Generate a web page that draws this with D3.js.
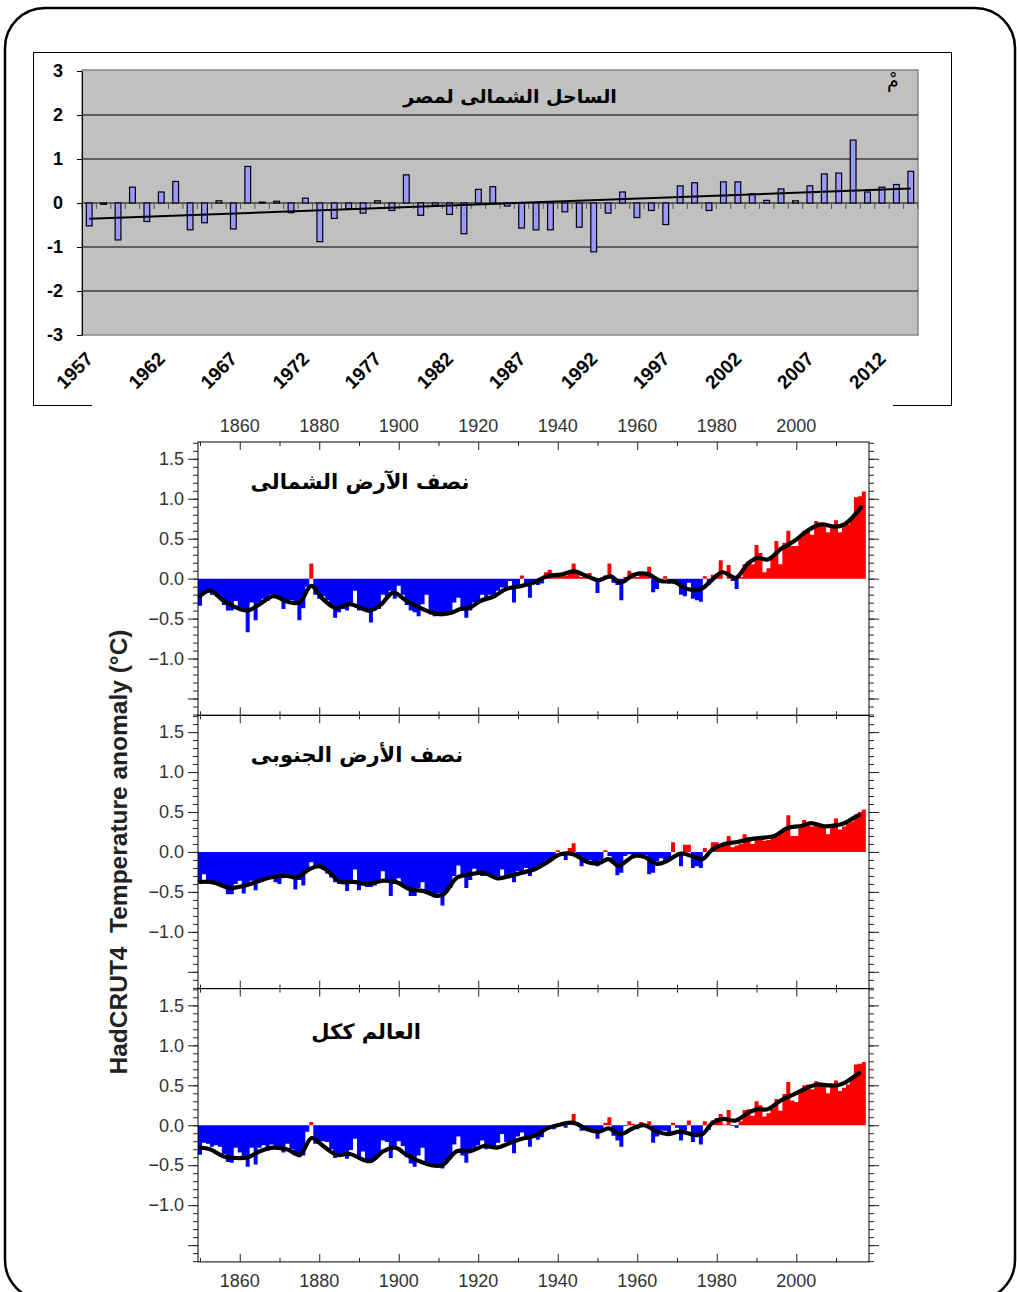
<!DOCTYPE html>
<html>
<head>
<meta charset="utf-8">
<script src="https://cdn.jsdelivr.net/npm/d3@7"></script>
<style>
  body { margin: 0; background: #fff; }
  svg { display: block; }
</style>
</head>
<body>
<div id="container"></div>
<script>
// ---- north coast of Egypt, annual anomaly (°C), 1957-2014
const egyptYears = d3.range(1957, 2015);
const egyptAnomaly = [
  -0.52, -0.03, -0.84, 0.36, -0.42, 0.25, 0.49, -0.61, -0.45, 0.05,
  -0.59, 0.83, 0.02, 0.04, -0.22, 0.11, -0.88, -0.35, -0.13, -0.23,
  0.05, -0.17, 0.64, -0.28, -0.05, -0.26, -0.70, 0.31, 0.37, -0.07,
  -0.57, -0.61, -0.61, -0.20, -0.55, -1.11, -0.23, 0.25, -0.33, -0.17,
  -0.49, 0.39, 0.46, -0.17, 0.48, 0.48, 0.21, 0.06, 0.32, 0.05,
  0.39, 0.66, 0.68, 1.43, 0.25, 0.36, 0.42, 0.72
];
const egyptTrendYears = [1957, 2014];
const egyptTrendValues = [-0.36, 0.33];
const egyptTickYears = [1957, 1962, 1967, 1972, 1977, 1982, 1987, 1992, 1997, 2002, 2007, 2012];
const egyptYTicks = [-3, -2, -1, 0, 1, 2, 3];
const egyptTitle = "الساحل الشمالى لمصر";
const egyptUnit = "مْ";

// ---- HadCRUT4 annual anomalies (°C), 1850-2017
const hadYears = d3.range(1850, 2018);
const nhAnomaly = [
  -0.34, -0.17, -0.15, -0.20, -0.20, -0.25, -0.33, -0.40, -0.40, -0.28,
  -0.36, -0.38, -0.67, -0.30, -0.52, -0.30, -0.25, -0.28, -0.20, -0.22,
  -0.25, -0.38, -0.30, -0.27, -0.30, -0.52, -0.37, -0.10, 0.19, -0.20,
  -0.25, -0.22, -0.27, -0.35, -0.49, -0.42, -0.38, -0.40, -0.30, -0.15,
  -0.40, -0.36, -0.42, -0.55, -0.40, -0.38, -0.20, -0.22, -0.15, -0.25,
  -0.09, -0.20, -0.33, -0.40, -0.42, -0.47, -0.32, -0.20, -0.45, -0.47,
  -0.45, -0.47, -0.46, -0.45, -0.30, -0.24, -0.40, -0.49, -0.40, -0.30,
  -0.28, -0.20, -0.25, -0.20, -0.24, -0.15, -0.11, -0.12, -0.03, -0.30,
  -0.09, 0.04, -0.08, -0.24, -0.05, -0.08, -0.06, 0.08, 0.11, 0.04,
  0.04, 0.03, 0.04, 0.07, 0.19, 0.06, 0.02, 0.04, 0.07, 0.00,
  -0.18, -0.02, 0.04, 0.19, -0.05, -0.08, -0.27, 0.02, 0.10, 0.07,
  0.02, 0.08, 0.06, 0.15, -0.17, -0.13, -0.05, 0.03, -0.06, -0.03,
  -0.05, -0.20, -0.22, -0.05, -0.25, -0.27, -0.29, 0.03, -0.08, 0.05,
  0.06, 0.23, 0.00, 0.17, -0.03, -0.13, 0.02, 0.18, 0.22, 0.18,
  0.42, 0.32, 0.08, 0.13, 0.27, 0.47, 0.18, 0.45, 0.60, 0.41,
  0.41, 0.51, 0.60, 0.60, 0.55, 0.72, 0.70, 0.70, 0.58, 0.63,
  0.73, 0.58, 0.66, 0.68, 0.76, 1.02, 1.03, 1.09
];
const shAnomaly = [
  -0.38, -0.28, -0.38, -0.40, -0.38, -0.40, -0.42, -0.53, -0.53, -0.40,
  -0.36, -0.52, -0.40, -0.36, -0.48, -0.38, -0.33, -0.33, -0.30, -0.38,
  -0.40, -0.32, -0.28, -0.30, -0.47, -0.35, -0.42, -0.25, -0.13, -0.20,
  -0.20, -0.22, -0.27, -0.32, -0.38, -0.40, -0.40, -0.49, -0.38, -0.22,
  -0.48, -0.42, -0.44, -0.44, -0.42, -0.38, -0.24, -0.36, -0.55, -0.40,
  -0.33, -0.40, -0.45, -0.55, -0.55, -0.45, -0.38, -0.50, -0.52, -0.57,
  -0.52, -0.67, -0.50, -0.45, -0.30, -0.17, -0.30, -0.45, -0.35, -0.21,
  -0.25, -0.30, -0.30, -0.28, -0.33, -0.30, -0.22, -0.30, -0.28, -0.38,
  -0.24, -0.25, -0.20, -0.30, -0.22, -0.20, -0.18, -0.12, -0.10, -0.08,
  0.02, -0.02, -0.10, 0.05, 0.11, -0.05, -0.18, -0.12, -0.10, -0.12,
  -0.18, -0.10, 0.02, -0.05, -0.15, -0.29, -0.26, -0.05, -0.03, -0.08,
  -0.06, -0.03, -0.04, -0.28, -0.26, -0.12, -0.08, -0.12, -0.10, 0.12,
  0.00, -0.18, 0.09, 0.09, -0.20, -0.18, -0.20, 0.05, 0.00, 0.12,
  0.12, 0.08, 0.10, 0.20, 0.06, 0.08, 0.10, 0.22, 0.18, 0.10,
  0.18, 0.18, 0.14, 0.15, 0.18, 0.20, 0.23, 0.30, 0.46, 0.20,
  0.20, 0.33, 0.40, 0.36, 0.32, 0.35, 0.32, 0.30, 0.22, 0.35,
  0.42, 0.28, 0.32, 0.36, 0.38, 0.47, 0.50, 0.53
];
const globalAnomaly = [
  -0.37, -0.22, -0.23, -0.27, -0.25, -0.27, -0.36, -0.46, -0.47, -0.28,
  -0.34, -0.41, -0.52, -0.28, -0.49, -0.28, -0.25, -0.32, -0.24, -0.26,
  -0.28, -0.34, -0.23, -0.30, -0.37, -0.40, -0.38, -0.08, 0.04, -0.23,
  -0.23, -0.20, -0.21, -0.30, -0.41, -0.39, -0.37, -0.42, -0.31, -0.17,
  -0.42, -0.33, -0.46, -0.47, -0.41, -0.39, -0.19, -0.21, -0.41, -0.29,
  -0.20, -0.26, -0.40, -0.48, -0.52, -0.38, -0.28, -0.47, -0.51, -0.52,
  -0.49, -0.54, -0.44, -0.42, -0.24, -0.14, -0.38, -0.47, -0.33, -0.28,
  -0.25, -0.19, -0.30, -0.28, -0.29, -0.22, -0.11, -0.21, -0.21, -0.35,
  -0.14, -0.09, -0.14, -0.27, -0.13, -0.18, -0.15, -0.03, -0.01, -0.05,
  0.01, 0.02, -0.03, 0.00, 0.14, 0.03, -0.07, -0.04, -0.04, -0.07,
  -0.17, -0.05, 0.03, 0.10, -0.13, -0.19, -0.27, -0.01, 0.05, 0.02,
  -0.05, 0.04, 0.01, 0.05, -0.22, -0.14, -0.07, -0.07, -0.11, 0.03,
  -0.03, -0.19, -0.07, 0.06, -0.21, -0.15, -0.24, 0.05, -0.06, 0.06,
  0.09, 0.14, 0.01, 0.19, -0.01, -0.03, 0.05, 0.19, 0.20, 0.12,
  0.30, 0.25, 0.11, 0.15, 0.21, 0.33, 0.18, 0.39, 0.54, 0.31,
  0.29, 0.44, 0.50, 0.51, 0.45, 0.55, 0.51, 0.49, 0.40, 0.51,
  0.56, 0.43, 0.47, 0.51, 0.58, 0.76, 0.77, 0.79
];

// smoothed curves at a few points
const nhSmoothYears = [1850, 1852.5, 1856, 1859, 1862, 1865, 1868.5, 1872, 1875, 1878, 1881, 1884.3, 1887.7, 1892.7, 1895.6, 1898.6, 1902, 1906, 1909.5, 1913, 1915.5, 1918, 1920.5, 1924, 1927, 1931, 1934, 1937.3, 1940.7, 1944, 1947.4, 1950.3, 1953.3, 1955.8, 1959.2, 1962.5, 1965.9, 1969.2, 1972.6, 1976, 1978.5, 1981.4, 1984.8, 1987.7, 1990.2, 1992.8, 1996.1, 1999.5, 2002.8, 2006.2, 2009.6, 2012.1, 2014.6, 2016.3];
const nhSmooth = [-0.22, -0.15, -0.28, -0.36, -0.40, -0.32, -0.22, -0.29, -0.30, -0.09, -0.26, -0.37, -0.32, -0.40, -0.32, -0.175, -0.28, -0.38, -0.44, -0.43, -0.38, -0.36, -0.28, -0.22, -0.13, -0.09, -0.05, 0.03, 0.05, 0.09, 0.03, -0.02, 0.03, -0.05, 0.05, 0.06, -0.03, -0.04, -0.13, -0.13, -0.03, 0.08, 0.01, 0.18, 0.26, 0.24, 0.37, 0.47, 0.60, 0.68, 0.65, 0.68, 0.79, 0.89];
const shSmoothYears = [1850, 1853.3, 1857.5, 1860.9, 1864.2, 1867.6, 1871.8, 1874.3, 1877.7, 1880.2, 1882.7, 1885.2, 1888.6, 1892, 1896.2, 1899.5, 1902.9, 1906.3, 1909.6, 1911.3, 1914.7, 1918, 1921.4, 1924.8, 1928.1, 1931, 1934.5, 1937.3, 1940.7, 1944, 1947.4, 1950.3, 1952.8, 1955.3, 1959.2, 1961.7, 1965, 1967.6, 1970.9, 1974.3, 1976.4, 1978.9, 1981.9, 1985.2, 1988.6, 1991.9, 1994.5, 1997.8, 2001.2, 2003.7, 2007.1, 2009.6, 2012.1, 2014.6, 2015.8];
const shSmooth = [-0.375, -0.38, -0.45, -0.425, -0.375, -0.32, -0.30, -0.32, -0.21, -0.18, -0.26, -0.375, -0.375, -0.40, -0.36, -0.38, -0.47, -0.49, -0.55, -0.53, -0.32, -0.28, -0.26, -0.33, -0.30, -0.26, -0.21, -0.13, -0.03, -0.03, -0.125, -0.14, -0.09, -0.17, -0.05, -0.06, -0.15, -0.11, -0.02, -0.06, -0.09, 0.03, 0.10, 0.125, 0.16, 0.18, 0.20, 0.30, 0.325, 0.36, 0.32, 0.33, 0.36, 0.43, 0.46];
const globalSmoothYears = [1850, 1852.5, 1856, 1859.2, 1862.1, 1865.1, 1868.4, 1871.8, 1875.1, 1878.1, 1881, 1884.4, 1887.7, 1892.8, 1896.1, 1899.1, 1902, 1906.2, 1909.6, 1911.3, 1914.6, 1918, 1921.4, 1924.7, 1928.1, 1931, 1934.4, 1937.3, 1940.7, 1944, 1947.4, 1950.3, 1952.8, 1955.8, 1959.2, 1961.7, 1965, 1967.6, 1970.9, 1974.3, 1976.4, 1978.9, 1981.4, 1984.8, 1987.7, 1990.2, 1992.8, 1996.1, 1999.5, 2002.8, 2005.3, 2007.8, 2010.4, 2012.5, 2014.6, 2015.8];
const globalSmooth = [-0.28, -0.30, -0.39, -0.41, -0.40, -0.325, -0.28, -0.30, -0.37, -0.16, -0.26, -0.37, -0.36, -0.45, -0.325, -0.28, -0.37, -0.47, -0.51, -0.49, -0.325, -0.325, -0.26, -0.28, -0.22, -0.17, -0.13, -0.04, 0.01, 0.03, -0.05, -0.08, -0.04, -0.11, -0.03, 0.00, -0.08, -0.11, -0.08, -0.12, -0.11, 0.03, 0.08, 0.06, 0.15, 0.20, 0.20, 0.31, 0.39, 0.47, 0.51, 0.50, 0.50, 0.54, 0.61, 0.65];

const hadXTicks = [1860, 1880, 1900, 1920, 1940, 1960, 1980, 2000];
const hadXMinor = [1850, 1870, 1890, 1910, 1930, 1950, 1970, 1990, 2010];
const hadYTicks = [-1, -0.5, 0, 0.5, 1, 1.5];
const hadYMajor = [-1.5, -1, -0.5, 0, 0.5, 1, 1.5];
const hadYMinor = d3.range(-17, 18).map((d) => d / 10);
const panelTitles = ["نصف الآرض الشمالى", "نصف الأرض الجنوبى", "العالم ككل"];
const yTitle = "HadCRUT4  Temperature anomaly (°C)";

// ---------------------------------------------------------------
const width = 1017;
const height = 1292;
const sans = "Liberation Sans, Arial, sans-serif";
const arabic = "DejaVu Sans, sans-serif";

const svg = d3
  .select("#container")
  .append("svg")
  .attr("width", width)
  .attr("height", height);

// rounded outer frame
svg
  .append("rect")
  .attr("x", 5)
  .attr("y", 8)
  .attr("width", 1010)
  .attr("height", 1292)
  .attr("rx", 40)
  .attr("fill", "none")
  .attr("stroke", "#000")
  .attr("stroke-width", 2.5);

// ===== top chart (Excel style) =====
const egypt = svg.append("g");
egypt
  .append("rect")
  .attr("x", 33.5)
  .attr("y", 52.5)
  .attr("width", 918)
  .attr("height", 353)
  .attr("fill", "#fff")
  .attr("stroke", "#000");

const xE = d3
  .scaleBand()
  .domain(egyptYears)
  .range([82, 918])
  .paddingInner(0.6)
  .paddingOuter(0.3);
const yE = d3.scaleLinear().domain([-3, 3]).range([335, 71]);
const bw = xE.bandwidth();
const stepE = xE.step();

egypt
  .append("rect")
  .attr("x", 82)
  .attr("y", 70)
  .attr("width", 836)
  .attr("height", 265)
  .attr("fill", "#c0c0c0")
  .attr("stroke", "#888")
  .attr("stroke-width", 1.5);

// grid lines
egypt
  .append("g")
  .selectAll("line")
  .data(egyptYTicks.filter((d) => Math.abs(d) < 3))
  .join("line")
  .attr("x1", 82)
  .attr("x2", 918)
  .attr("y1", (d) => yE(d))
  .attr("y2", (d) => yE(d))
  .attr("stroke", "#000")
  .attr("stroke-width", 1);

// category ticks under the zero line
const catEdges = egyptYears
  .map((d) => xE(d) + bw / 2 - stepE / 2)
  .concat([xE(egyptYears[egyptYears.length - 1]) + bw / 2 + stepE / 2]);
egypt
  .append("g")
  .selectAll("line")
  .data(catEdges)
  .join("line")
  .attr("x1", (d) => d)
  .attr("x2", (d) => d)
  .attr("y1", yE(0))
  .attr("y2", yE(0) + 6)
  .attr("stroke", "#555");

// bars
egypt
  .append("g")
  .selectAll("rect")
  .data(egyptYears)
  .join("rect")
  .attr("x", (d) => xE(d))
  .attr("width", bw)
  .attr("y", (d, i) => yE(Math.max(0, egyptAnomaly[i])))
  .attr("height", (d, i) => Math.abs(yE(egyptAnomaly[i]) - yE(0)))
  .attr("fill", "#9999ff")
  .attr("stroke", "#000")
  .attr("stroke-width", 1.2);

// trend line
egypt
  .append("path")
  .datum(egyptTrendYears.map((d, i) => [d, egyptTrendValues[i]]))
  .attr("fill", "none")
  .attr("stroke", "#000")
  .attr("stroke-width", 2)
  .attr(
    "d",
    d3
      .line()
      .x((d) => xE(d[0]) + bw / 2)
      .y((d) => yE(d[1]))
  );

// left axis
egypt
  .append("g")
  .attr("transform", "translate(82,0)")
  .call(
    d3
      .axisLeft(yE)
      .tickValues(egyptYTicks)
      .tickSize(5)
      .tickSizeOuter(0)
      .tickPadding(14)
      .tickFormat((d) => String(d))
  )
  .call((g) => g.select(".domain").attr("stroke", "#000"))
  .call((g) => g.selectAll(".tick line").attr("stroke", "#000"))
  .call((g) =>
    g
      .selectAll("text")
      .attr("font-family", sans)
      .attr("font-weight", "bold")
      .attr("font-size", 18)
      .attr("fill", "#000")
  );

// rotated year labels
egypt
  .append("g")
  .selectAll("text")
  .data(egyptTickYears)
  .join("text")
  .attr("transform", (d) => `translate(${xE(d) + bw / 2 + 5},360) rotate(-45)`)
  .attr("text-anchor", "end")
  .attr("font-family", sans)
  .attr("font-weight", "bold")
  .attr("font-size", 19)
  .text((d) => d);

egypt
  .append("text")
  .attr("x", 510)
  .attr("y", 103)
  .attr("text-anchor", "middle")
  .attr("font-family", arabic)
  .attr("font-weight", "bold")
  .attr("font-size", 19)
  .text(egyptTitle);

egypt
  .append("text")
  .attr("x", 893)
  .attr("y", 87)
  .attr("text-anchor", "middle")
  .attr("font-family", arabic)
  .attr("font-size", 19)
  .text(egyptUnit);

// ===== lower chart (HadCRUT4) =====
const had = svg.append("g");
had
  .append("rect")
  .attr("x", 92)
  .attr("y", 399)
  .attr("width", 801)
  .attr("height", 868)
  .attr("fill", "#fff");

const xH = d3.scaleLinear().domain([1849.5, 2018.3]).range([198, 869]);
const panelH = 273.3;
const panels = [
  { values: nhAnomaly, sYears: nhSmoothYears, sVals: nhSmooth, title: panelTitles[0], tx: 360, ty: 489 },
  { values: shAnomaly, sYears: shSmoothYears, sVals: shSmooth, title: panelTitles[1], tx: 357, ty: 762 },
  { values: globalAnomaly, sYears: globalSmoothYears, sVals: globalSmooth, title: panelTitles[2], tx: 366, ty: 1039 },
];
const fmt = d3.format(".1f");

panels.forEach((p, k) => {
  const top = 442 + k * panelH;
  const y = d3.scaleLinear().domain([-1.71, 1.71]).range([top + panelH, top]);
  const g = had.append("g");

  // bars as one stepped area per sign, so there are no seams between years
  const steps = hadYears.map((d, i) => [d - 0.5, p.values[i]]);
  steps.push([hadYears[hadYears.length - 1] + 0.5, p.values[p.values.length - 1]]);
  const stepArea = (clip) =>
    d3
      .area()
      .x((d) => xH(d[0]))
      .y0(y(0))
      .y1((d) => y(clip(d[1])))
      .curve(d3.curveStepAfter);
  g.append("path")
    .datum(steps)
    .attr("fill", "#0000ff")
    .attr("d", stepArea((v) => Math.min(0, v)));
  g.append("path")
    .datum(steps)
    .attr("fill", "#ff0000")
    .attr("d", stepArea((v) => Math.max(0, v)));

  // smoothed curve
  g.append("path")
    .datum(p.sYears.map((d, i) => [d, p.sVals[i]]))
    .attr("fill", "none")
    .attr("stroke", "#000")
    .attr("stroke-width", 4.2)
    .attr("stroke-linejoin", "round")
    .attr("stroke-linecap", "round")
    .attr(
      "d",
      d3
        .line()
        .x((d) => xH(d[0]))
        .y((d) => y(d[1]))
        .curve(d3.curveCatmullRom.alpha(0.5))
    );

  // frame
  g.append("rect")
    .attr("x", 198)
    .attr("y", top)
    .attr("width", 869 - 198)
    .attr("height", panelH)
    .attr("fill", "none")
    .attr("stroke", "#000")
    .attr("stroke-width", 1);

  const clean = (a) => {
    a.select(".domain").remove();
    a.selectAll(".tick line").attr("stroke", "#222");
  };

  // y ticks: left & right, outward
  g.append("g").attr("transform", "translate(198,0)")
    .call(d3.axisLeft(y).tickValues(hadYMinor).tickSize(5).tickFormat("")).call(clean);
  g.append("g").attr("transform", "translate(198,0)")
    .call(
      d3.axisLeft(y).tickValues(hadYMajor).tickSize(10).tickPadding(4)
        .tickFormat((d) => (hadYTicks.includes(d) ? fmt(d) : ""))
    )
    .call(clean)
    .call((a) =>
      a.selectAll("text").attr("font-family", sans).attr("font-size", 18).attr("fill", "#333")
    );
  g.append("g").attr("transform", "translate(869,0)")
    .call(d3.axisRight(y).tickValues(hadYMinor).tickSize(5).tickFormat("")).call(clean);
  g.append("g").attr("transform", "translate(869,0)")
    .call(d3.axisRight(y).tickValues(hadYMajor).tickSize(10).tickFormat("")).call(clean);

  // x ticks: inward on top and bottom edge
  g.append("g").attr("transform", `translate(0,${top})`)
    .call(d3.axisBottom(xH).tickValues(hadXMinor).tickSize(4).tickFormat("")).call(clean);
  g.append("g").attr("transform", `translate(0,${top})`)
    .call(d3.axisBottom(xH).tickValues(hadXTicks).tickSize(8).tickFormat("")).call(clean);
  g.append("g").attr("transform", `translate(0,${top + panelH})`)
    .call(d3.axisTop(xH).tickValues(hadXMinor).tickSize(4).tickFormat("")).call(clean);
  g.append("g").attr("transform", `translate(0,${top + panelH})`)
    .call(d3.axisTop(xH).tickValues(hadXTicks).tickSize(8).tickFormat("")).call(clean);

  // panel title
  g.append("text")
    .attr("x", p.tx)
    .attr("y", p.ty)
    .attr("text-anchor", "middle")
    .attr("font-family", arabic)
    .attr("font-weight", "bold")
    .attr("font-size", 21)
    .text(p.title);
});

// year labels above and below
[432, 1287].forEach((ly) => {
  had.append("g")
    .selectAll("text")
    .data(hadXTicks)
    .join("text")
    .attr("x", (d) => xH(d))
    .attr("y", ly)
    .attr("text-anchor", "middle")
    .attr("font-family", sans)
    .attr("font-size", 18)
    .attr("fill", "#333")
    .text((d) => d);
});

// y axis title
had
  .append("text")
  .attr("transform", "translate(127,852) rotate(-90)")
  .attr("text-anchor", "middle")
  .attr("font-family", sans)
  .attr("font-weight", "bold")
  .attr("font-size", 24.5)
  .style("white-space", "pre")
  .attr("fill", "#222")
  .text(yTitle);
</script>
</body>
</html>
